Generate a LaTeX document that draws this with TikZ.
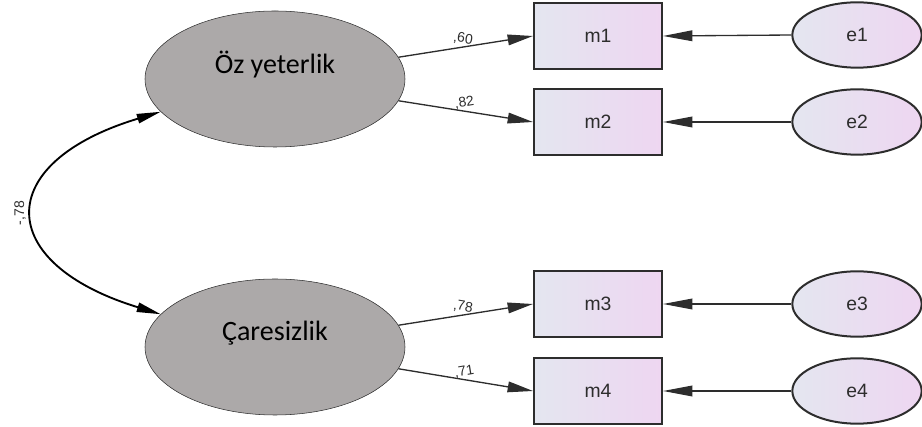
\documentclass[tikz,border=0pt]{standalone}
\usepackage{fontspec}
\setmainfont{Carlito}
\newfontfamily\amosfont{Liberation Sans}
\usetikzlibrary{shapes.geometric,arrows.meta}
\usepackage{xcolor}
\definecolor{latentgray}{RGB}{172,169,169}
\definecolor{boxleft}{RGB}{228,230,240}
\definecolor{boxright}{RGB}{238,214,241}
\definecolor{edgegray}{RGB}{45,45,45}
\tikzset{every picture/.style={line width=0.75pt}}
\tikzset{
  latent/.style={ellipse, fill=latentgray, draw=edgegray, line width=0.4pt, minimum width=195pt, minimum height=102pt, inner sep=0pt},
  latenttext/.style={font=\fontsize{21}{25}\selectfont, inner sep=0pt},
  obsbox/.style={rectangle, draw=edgegray, line width=1.5pt, left color=boxleft, right color=boxright, minimum width=96pt, minimum height=49pt, inner sep=0pt, font=\amosfont\fontsize{14.5}{16}\selectfont, text=edgegray},
  errnode/.style={ellipse, draw=edgegray, line width=1.5pt, left color=boxleft, right color=boxright, minimum width=97pt, minimum height=49pt, inner sep=0pt, font=\amosfont\fontsize{14.5}{16}\selectfont, text=edgegray},
  loadarrow/.style={draw=edgegray, line width=1pt, -{Triangle[length=19pt,width=8pt]}},
  errarrow/.style={draw=edgegray, line width=1pt, -{Triangle[length=22pt,width=8pt]}},
  covarrow/.style={draw=black, line width=1.4pt, {Triangle[length=18pt,width=7pt]}-{Triangle[length=18pt,width=7pt]}},
  coef/.style={font=\amosfont\fontsize{10.5}{12}\selectfont, text=edgegray, inner sep=1.5pt}
}
\begin{document}
\begin{tikzpicture}[x=0.75pt,y=0.75pt,yscale=-1,xscale=1]
\useasboundingbox (0,0) rectangle (922,427);

%Latent variables
\node[latent] (oz) at (275,79) {};
\node[latenttext] (oztext) at (275,65) {Öz yeterlik};
\node[latent] (ca) at (275,347) {};
\node[latenttext] (catext) at (275,333) {Çaresizlik};

%Observed variables
\node[obsbox] (m1) at (598,36) {m1};
\node[obsbox] (m2) at (598,122) {m2};
\node[obsbox] (m3) at (598,304) {m3};
\node[obsbox] (m4) at (598,391) {m4};

%Error terms
\node[errnode] (e1) at (857,35) {e1};
\node[errnode] (e2) at (857,122) {e2};
\node[errnode] (e3) at (857,304) {e3};
\node[errnode] (e4) at (857,391) {e4};

%Loadings
\draw[loadarrow] (oz.10) -- node[coef, sloped, above, pos=0.47] {,60} (m1.west);
\draw[loadarrow] (oz.-10) -- node[coef, sloped, above, pos=0.5] {,82} (m2.west);
\draw[loadarrow] (ca.10) -- node[coef, sloped, above, pos=0.47] {,78} (m3.west);
\draw[loadarrow] (ca.-10) -- node[coef, sloped, above, pos=0.5] {,71} (m4.west);

%Errors
\draw[errarrow] (e1.west) -- (m1.east);
\draw[errarrow] (e2.west) -- (m2.east);
\draw[errarrow] (e3.west) -- (m3.east);
\draw[errarrow] (e4.west) -- (m4.east);

%Covariance
\draw[covarrow] (oz.196) .. controls +(-169,51) and +(-167,-51) .. node[coef, pos=0.5, rotate=90, anchor=south, inner sep=6pt] {-,78} (ca.164);

\end{tikzpicture}
\end{document}
